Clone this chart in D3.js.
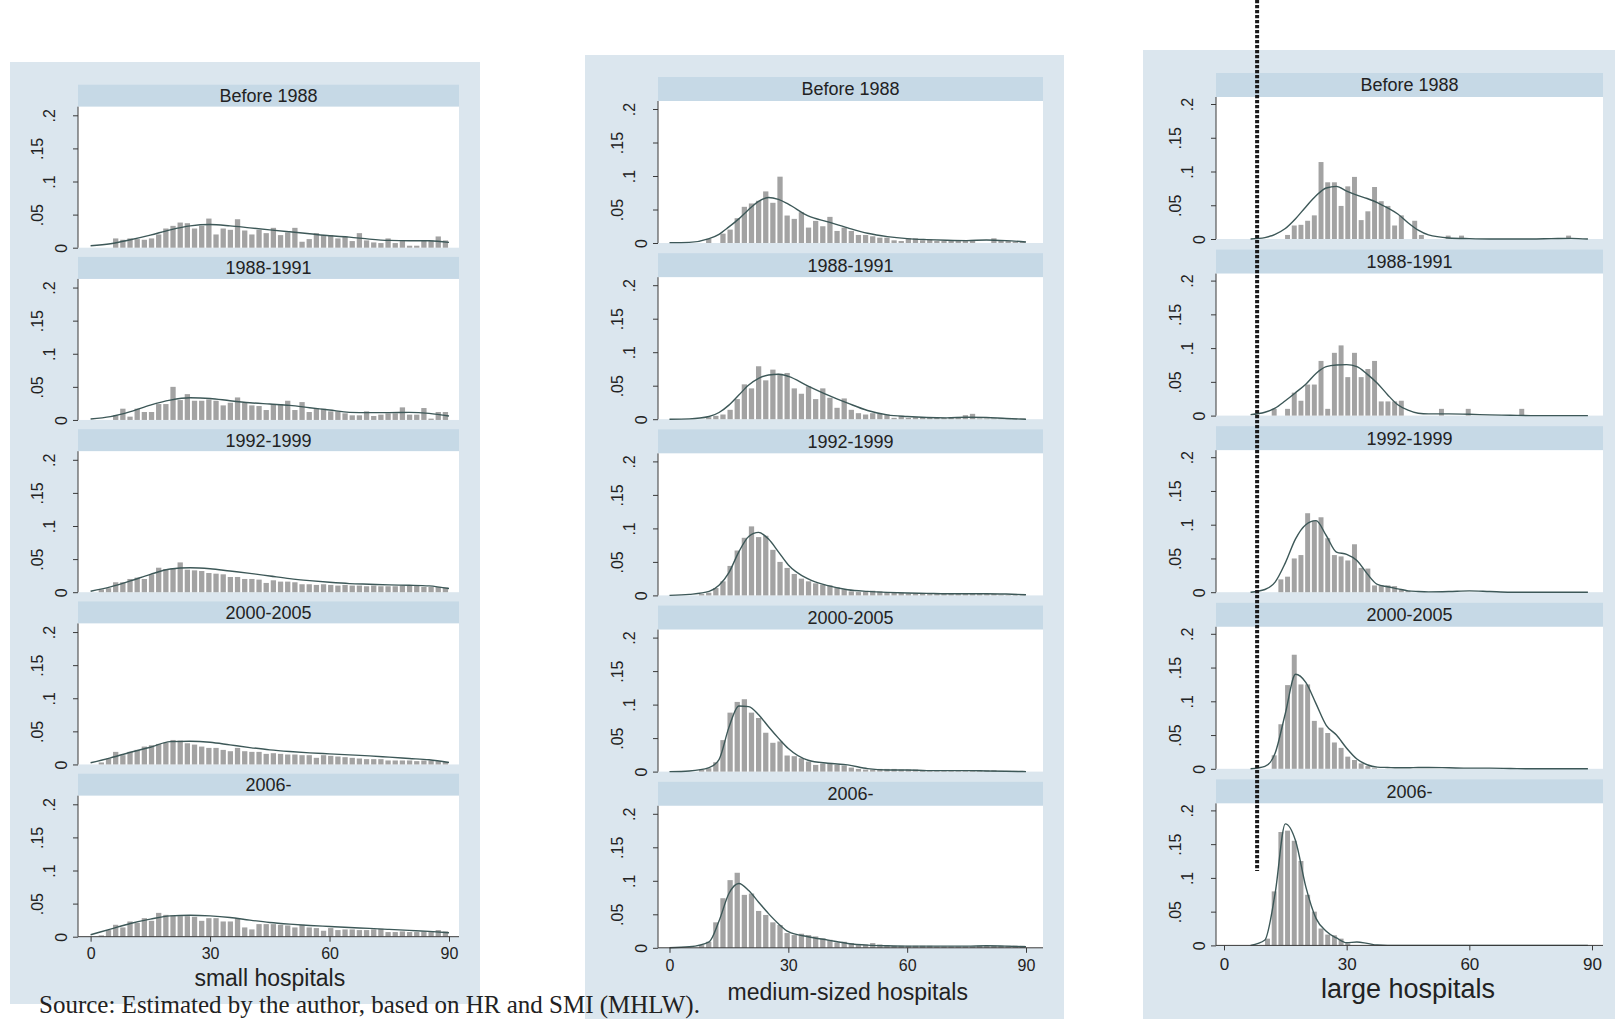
<!DOCTYPE html>
<html>
<head>
<meta charset="utf-8">
<title>Hospital size distributions by period</title>
<style>
    html, body {
        margin: 0;
        padding: 0;
        background: #ffffff;
    }
    svg text {
        font-family: "Liberation Sans", Arial, sans-serif;
        fill: #222;
    }
    .source {
        font-family: "Liberation Serif", "Times New Roman", serif;
    }
</style>
<script src="https://d3js.org/d3.v7.min.js"></script>
</head>
<body>
<svg id="chart" width="1615" height="1019"></svg>
<script>
// ---- data ----
const periods = ["Before 1988", "1988-1991", "1992-1999", "2000-2005", "2006-"];
const groupTitles = ["small hospitals", "medium-sized hospitals", "large hospitals"];
const xTicks = [0, 30, 60, 90];
const yTicks = [0, 0.05, 0.1, 0.15, 0.2];
const yTickLabels = ["0", ".05", ".1", ".15", ".2"];
const sourceNote = "Source: Estimated by the author, based on HR and SMI (MHLW).";

// histogram densities, equal bins over 0-90 (50 bins small/medium, 55 bins large)
const small_b88 = [0,0,0,.014,.012,.014,.013,.012,.014,.020,
    .029,.033,.038,.037,.029,.033,.044,.020,.029,.027,
    .043,.026,.020,.027,.022,.030,.019,.023,.030,.009,
    .013,.022,.019,.019,.014,.017,.010,.022,.011,.008,
    .007,.014,.007,.010,.003,.003,.011,.011,.017,.011];
const small_8891 = [0,0,0,.007,.017,.005,.017,.012,.012,.024,
    .024,.050,.030,.039,.029,.029,.031,.029,.022,.026,
    .034,.026,.022,.021,.015,.024,.024,.029,.015,.027,
    .012,.017,.017,.013,.013,.010,.007,.007,.013,.006,
    .008,.010,.010,.019,.008,.008,.018,.002,.012,.012];
const small_9299 = [0,.004,.006,.015,.015,.020,.022,.020,.027,.037,
    .035,.036,.045,.034,.033,.032,.029,.028,.027,.023,
    .023,.020,.020,.019,.014,.018,.016,.016,.015,.012,
    .012,.011,.012,.011,.010,.011,.010,.010,.009,.010,
    .009,.009,.009,.010,.010,.010,.008,.008,.008,.007];
const small_0005 = [0,.003,.009,.019,.014,.019,.022,.027,.029,.031,
    .033,.037,.036,.032,.030,.027,.025,.025,.022,.020,
    .025,.020,.019,.019,.016,.017,.016,.015,.015,.014,
    .014,.010,.014,.013,.012,.011,.010,.009,.008,.008,
    .008,.006,.006,.006,.006,.005,.006,.006,.005,.004];
const small_06 = [0,.002,.010,.018,.014,.023,.021,.028,.024,.036,
    .033,.032,.031,.031,.030,.024,.028,.028,.023,.023,
    .028,.014,.011,.019,.019,.019,.018,.017,.014,.018,
    .014,.013,.009,.013,.010,.011,.011,.010,.010,.011,
    .012,.007,.007,.008,.007,.007,.008,.008,.010,.008];

const medium_b88 = [0,0,0,0,0,.006,0,.014,.020,.037,
    .054,.059,.063,.077,.060,.099,.041,.036,.046,.023,
    .033,.025,.039,.018,.023,.018,.012,.012,.010,.008,
    .008,.004,.003,.007,.007,.004,.005,.003,.003,.004,
    .004,.003,.003,0,0,.007,.003,.003,.002,.002];
const medium_8891 = [0,0,0,0,0,.003,.005,.007,.014,.030,
    .052,.046,.079,.058,.074,.068,.069,.046,.038,.049,
    .030,.046,.032,.017,.031,.014,.009,.007,.009,.008,
    .007,.002,.005,.002,.003,.003,.002,.002,.002,.003,
    .002,.006,.008,.001,.001,.001,.001,.001,.001,.001];
const medium_9299 = [0,0,0,0,.002,.004,.011,.021,.044,.067,
    .086,.103,.087,.089,.068,.050,.041,.032,.025,.021,
    .018,.016,.015,.012,.009,.006,.005,.006,.007,.006,
    .005,.004,.004,.003,.003,.003,.002,.002,.002,.002,
    .002,.002,.002,.002,.002,.002,.001,.001,.001,.001];
const medium_0005 = [0,0,0,0,.003,.005,.014,.047,.088,.104,
    .108,.088,.080,.058,.043,.045,.024,.023,.020,.015,
    .010,.012,.012,.010,.009,.006,.004,.003,.003,.004,
    .004,.004,.003,.003,.003,.002,.002,.002,.002,.002,
    .002,.002,.002,.002,.002,.002,.001,.001,.001,.001];
const medium_06 = [0,0,0,0,.004,.009,.038,.074,.101,.112,
    .079,.081,.055,.049,.038,.034,.022,.019,.021,.019,
    .017,.014,.012,.008,.009,.007,.004,.005,.007,.005,
    .004,.003,.003,.003,.003,.003,.003,.002,.002,.002,
    .002,.002,.002,.003,.003,.003,.003,.003,.003,.003];

const large_b88 = [0,0,0,0,0,0,0,0,0,.006,
    .020,.021,.027,.035,.114,.084,.084,.049,.078,.092,
    .028,.041,.077,.056,.049,.020,.035,0,.027,.006,
    0,0,0,.005,0,.005,0,0,0,0,
    0,0,0,0,0,0,0,0,0,0,
    0,.005,0,0,0];
const large_8891 = [0,0,0,0,0,0,0,.010,0,.010,
    .034,.022,.046,.046,.081,.010,.093,.104,.057,.093,
    .057,.069,.081,.021,.021,.021,.022,0,0,0,
    0,0,.010,0,0,0,.010,0,0,0,
    0,0,0,0,.010,0,0,0,0,0,
    0,0,0,0,0];
const large_9299 = [0,0,0,0,0,0,0,0,.019,.023,
    .050,.055,.117,.106,.111,.080,.055,.053,.047,.071,
    .036,.035,.010,.010,.010,.009,.004,.002,0,0,
    0,0,0,0,0,0,0,0,0,0,
    0,0,0,0,0,0,0,0,0,0,
    0,0,0,0,0];
const large_0005 = [0,0,0,0,0,0,0,.020,.066,.124,
    .169,.125,.125,.071,.061,.053,.039,.031,.018,.013,
    .008,.004,.001,0,0,0,0,0,0,0,
    0,0,0,0,0,0,0,0,0,0,
    0,0,0,0,0,0,0,0,0,0,
    0,0,0,0,0];
const large_06 = [0,0,0,0,0,0,.010,.080,.168,.170,
    .155,.125,.075,.050,.025,.016,.015,.010,.003,0,
    0,0,0,0,0,0,0,0,0,0,
    0,0,0,0,0,0,0,0,0,0,
    0,0,0,0,0,0,0,0,0,0,
    0,0,0,0,0];

// kernel density lines, read at these x positions
const gridSmall = [0,5,10,15,20,25,30,35,40,45,50,55,60,65,70,75,80,85,90];
const gridMedium = [0,5,10,12.5,15,17.5,20,22.5,25,27.5,30,35,40,45,50,55,60,65,70,75,80,85,90];
const gridLarge = [6.5,10,12.5,15,17.5,20,22.5,25,27.5,30,32.5,35,37.5,40,42.5,45,47.5,50,55,60,65,70,75,80,85,89];

const kd_small_b88 = [.003,.006,.012,.019,.027,.033,.035,.033,.030,.027,.024,.021,.018,.016,.013,.011,.0105,.0105,.008];
const kd_small_8891 = [.0015,.005,.0125,.0225,.030,.0335,.0325,.029,.026,.024,.022,.0185,.015,.0115,.011,.011,.0115,.010,.006];
const kd_small_9299 = [.0015,.008,.017,.027,.035,.037,.0355,.032,.0285,.0245,.0205,.0175,.015,.013,.012,.011,.0105,.0095,.0055];
const kd_small_0005 = [.0025,.010,.0185,.026,.0345,.035,.0335,.0295,.0255,.022,.0195,.0175,.016,.0145,.013,.011,.009,.007,.003];
const kd_small_06 = [.003,.0115,.020,.0265,.0315,.0325,.0315,.029,.025,.0215,.019,.017,.0155,.014,.0125,.011,.0095,.008,.006];

const kd_medium_b88 = [.0005,.001,.0065,.013,.024,.036,.050,.062,.068,.065,.058,.0405,.0315,.0225,.0145,.0095,.0065,.005,.004,.0035,.0045,.0035,.0015];
const kd_medium_8891 = [0,.0005,.004,.010,.021,.036,.051,.061,.066,.067,.064,.0495,.036,.024,.013,.0065,.004,.0025,.002,.003,.0025,.001,0];
const kd_medium_9299 = [0,.0015,.006,.015,.034,.065,.088,.094,.084,.065,.0455,.0245,.0145,.0085,.006,.0045,.0035,.003,.0025,.0025,.0025,.002,.001];
const kd_medium_0005 = [0,.001,.006,.018,.066,.098,.097,.085,.067,.050,.0345,.017,.0125,.010,.0045,.0025,.0025,.0015,.0015,.0015,.001,.0005,0];
const kd_medium_06 = [0,.0015,.009,.040,.081,.096,.0855,.068,.051,.036,.024,.0165,.0115,.0065,.004,.003,.0025,.0025,.0025,.0025,.003,.0025,.0015];

const kd_large_b88 = [0,.002,.007,.0155,.030,.0475,.064,.0755,.078,.071,.065,.060,.054,.046,.037,.024,.013,.006,.0015,.0005,0,0,0,.0005,.001,0];
const kd_large_8891 = [.0015,.005,.011,.022,.034,.0465,.0625,.0725,.075,.0755,.0725,.0615,.048,.031,.016,.008,.0035,.0025,.0025,.002,.001,.0005,0,0,0,0];
const kd_large_9299 = [0,.004,.015,.0435,.079,.100,.106,.084,.0595,.056,.047,.0275,.0115,.008,.005,.002,.001,.0005,.001,.002,.001,0,0,0,0,0];
const kd_large_0005 = [0,.0035,.023,.082,.140,.128,.0965,.0645,.050,.0305,.0145,.006,.0025,.002,.0015,.0015,.002,.002,.0015,.001,.001,.0005,0,0,0,0];
const kd_large_06 = [0,.008,.077,.180,.155,.087,.040,.021,.011,.004,.005,.003,.0005,0,0,0,0,0,0,0,0,0,0,0,0,0];

// ---- assemble ----
const histograms = [
    [small_b88, small_8891, small_9299, small_0005, small_06],
    [medium_b88, medium_8891, medium_9299, medium_0005, medium_06],
    [large_b88, large_8891, large_9299, large_0005, large_06]
];
const densities = [
    [kd_small_b88, kd_small_8891, kd_small_9299, kd_small_0005, kd_small_06],
    [kd_medium_b88, kd_medium_8891, kd_medium_9299, kd_medium_0005, kd_medium_06],
    [kd_large_b88, kd_large_8891, kd_large_9299, kd_large_0005, kd_large_06]
];
const grids = [gridSmall, gridMedium, gridLarge];

// panel geometry (pixels)
const layout = [
    {bg: [10, 62, 470, 942], axisX: 78, plotR: 459, x0: 90.6, x90: 449, zero: 247.7, step: 172.25,
     ppu: 662, plotH: 141, stripH: 22, tickFont: 16, tickPad: 6, titleY: 986, titleFont: 23},
    {bg: [585, 55, 479, 964], axisX: 658, plotR: 1043, x0: 669.5, x90: 1026, zero: 243, step: 176.2,
     ppu: 670, plotH: 142, stripH: 24, tickFont: 16, tickPad: 7, titleY: 1000, titleFont: 23},
    {bg: [1143, 50, 472, 969], axisX: 1216, plotR: 1603, x0: 1224, x90: 1592, zero: 239, step: 176.6,
     ppu: 675, plotH: 142, stripH: 24, tickFont: 17, tickPad: 8, titleY: 998, titleFont: 27}
];

const panelFill = "#dbe6ee";
const stripFill = "#c6d9e6";
const barFill = "#a3a3a3";
const lineColor = "#3d5858";
const axisColor = "#3a3a3a";

const svg = d3.select("#chart");

layout.forEach((col, c) => {
    svg.append("rect")
        .attr("x", col.bg[0]).attr("y", col.bg[1])
        .attr("width", col.bg[2]).attr("height", col.bg[3])
        .attr("fill", panelFill);

    const x = d3.scaleLinear().domain([0, 90]).range([col.x0, col.x90]);

    periods.forEach((period, r) => {
        const zero = col.zero + r * col.step;
        const top = zero - col.plotH;
        const y = d3.scaleLinear().domain([0, 0.2]).range([zero, zero - 0.2 * col.ppu]);
        const g = svg.append("g");

        // strip title
        g.append("rect")
            .attr("x", col.axisX).attr("y", top - col.stripH)
            .attr("width", col.plotR - col.axisX).attr("height", col.stripH)
            .attr("fill", stripFill);
        g.append("text")
            .attr("x", (col.axisX + col.plotR) / 2)
            .attr("y", top - col.stripH / 2)
            .attr("dy", "0.36em")
            .attr("text-anchor", "middle")
            .attr("font-size", "18px")
            .text(period);

        // plot region
        g.append("rect")
            .attr("x", col.axisX).attr("y", top)
            .attr("width", col.plotR - col.axisX).attr("height", zero - top)
            .attr("fill", "#ffffff");

        // bars
        const bins = histograms[c][r];
        const bw = 90 / bins.length;
        const pw = x(bw) - x(0);
        g.selectAll(".bar")
            .data(bins.map((v, i) => ({v, i})).filter(d => d.v > 0))
            .join("rect")
            .attr("class", "bar")
            .attr("x", d => x(d.i * bw) + pw * 0.13)
            .attr("width", pw * 0.74)
            .attr("y", d => y(d.v))
            .attr("height", d => zero - y(d.v))
            .attr("fill", barFill);

        // density line
        const grid = grids[c];
        const line = d3.line()
            .x((d, i) => x(grid[i]))
            .y(d => y(d))
            .curve(d3.curveMonotoneX);
        g.append("path")
            .datum(densities[c][r])
            .attr("d", line)
            .attr("fill", "none")
            .attr("stroke", lineColor)
            .attr("stroke-width", 1.4);

        // y axis
        g.append("line")
            .attr("x1", col.axisX).attr("x2", col.axisX)
            .attr("y1", top).attr("y2", zero)
            .attr("stroke", axisColor).attr("stroke-width", 1);
        const yAxis = d3.axisLeft(y).tickValues(yTicks).tickSize(5)
            .tickFormat((d, i) => yTickLabels[i]);
        const ya = g.append("g")
            .attr("transform", "translate(" + col.axisX + ",0)")
            .call(yAxis);
        ya.select(".domain").remove();
        ya.selectAll(".tick line").attr("stroke", axisColor);
        ya.selectAll(".tick text")
            .attr("x", null)
            .attr("text-anchor", "middle")
            .attr("font-size", "16px")
            .attr("font-family", "Liberation Sans, Arial, sans-serif")
            .attr("fill", "#444")
            .attr("transform", (d, i) => "translate(" + (-(5 + 12 * yTickLabels[i].length)) + ",0) rotate(-90)")
            .attr("dy", "0.36em");

        // x axis on bottom row only
        if (r === periods.length - 1) {
            g.append("line")
                .attr("x1", col.axisX).attr("x2", col.plotR)
                .attr("y1", zero).attr("y2", zero)
                .attr("stroke", axisColor).attr("stroke-width", 1);
            const xAxis = d3.axisBottom(x).tickValues(xTicks).tickSize(5).tickPadding(col.tickPad);
            const xa = g.append("g")
                .attr("transform", "translate(0," + zero + ")")
                .call(xAxis);
            xa.select(".domain").remove();
            xa.selectAll(".tick line").attr("stroke", axisColor);
            xa.selectAll(".tick text")
                .attr("font-size", col.tickFont + "px")
                .attr("font-family", "Liberation Sans, Arial, sans-serif")
                .attr("fill", "#333");
        }
    });

    svg.append("text")
        .attr("x", (col.x0 + col.x90) / 2)
        .attr("y", col.titleY)
        .attr("text-anchor", "middle")
        .attr("font-size", col.titleFont + "px")
        .text(groupTitles[c]);
});

// dotted reference line across the large-hospital panels
const xLarge = d3.scaleLinear().domain([0, 90]).range([layout[2].x0, layout[2].x90]);
svg.append("line")
    .attr("x1", xLarge(8.1)).attr("x2", xLarge(8.1))
    .attr("y1", 0).attr("y2", 871)
    .attr("stroke", "#1a1a1a")
    .attr("stroke-width", 4)
    .attr("stroke-dasharray", "3.2,1.8");

svg.append("text")
    .attr("class", "source")
    .attr("x", 39)
    .attr("y", 1013)
    .attr("font-size", "25px")
    .attr("fill", "#111")
    .text(sourceNote);
</script>
</body>
</html>
